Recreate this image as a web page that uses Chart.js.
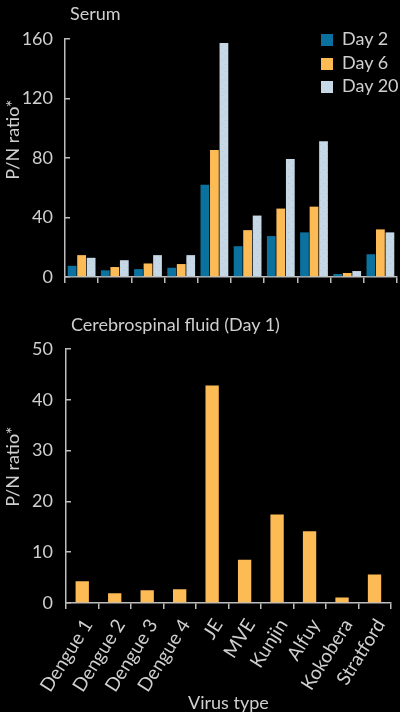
<!DOCTYPE html>
<html>
<head>
<meta charset="utf-8">
<script src="https://cdn.jsdelivr.net/npm/chart.js@4.4.1/dist/chart.umd.min.js"></script>
<style>
  html, body { margin: 0; padding: 0; background: #000; }
  body { width: 400px; height: 712px; position: relative; overflow: hidden; font-family: Lato, sans-serif; color: #cfcfcf; }
  .panel { position: absolute; left: 0; width: 400px; }
  .titulo { position: absolute; font-size: 18px; white-space: nowrap; }
  .leyenda { position: absolute; left: 321px; top: 27px; font-size: 18px; }
  .leyenda div { height: 23.5px; line-height: 23.5px; white-space: nowrap; }
  .leyenda span { display: inline-block; width: 12px; height: 12px; margin-right: 9px; vertical-align: -1px; }
</style>
</head>
<body>
<div class="panel" style="top:0;height:300px"><canvas id="grafico-suero" width="400" height="300"></canvas></div>
<div class="panel" style="top:300px;height:412px"><canvas id="grafico-lcr" width="400" height="412"></canvas></div>
<div class="titulo" style="left:70px;top:2px">Serum</div>
<div class="titulo" style="left:71px;top:313px">Cerebrospinal fluid (Day 1)</div>
<div class="leyenda" id="leyenda"></div>
<script>
const virus = ['Dengue 1', 'Dengue 2', 'Dengue 3', 'Dengue 4', 'JE', 'MVE', 'Kunjin', 'Alfuy', 'Kokobera', 'Stratford'];
const suero = ['Day 2', 'Day 6', 'Day 20'];
const dia2 = [7.5, 4.5, 5.3, 6.2, 62, 20.7, 27.5, 30, 2, 15.3];
const dia6 = [14.7, 6.7, 9.1, 8.7, 85.3, 31.5, 46, 47.3, 2.7, 32];
const dia20 = [12.9, 11.3, 14.7, 14.7, 157.3, 41.3, 79.3, 91.3, 4, 30];
const lcrDia1 = [4.3, 1.9, 2.5, 2.7, 42.8, 8.5, 17.4, 14.1, 1.1, 5.6];
const ticksSuero = [0, 40, 80, 120, 160];
const ticksLcr = [0, 10, 20, 30, 40, 50];

const colorTexto = '#cfcfcf';
const colorEje = '#bdbdbd';
const azul = '#0b72a0';
const naranja = '#fdbb55';
const celeste = '#c6d7e6';

// trama punteada para Day 20
function trama() {
    const c = document.createElement('canvas');
    c.width = 7; c.height = 7;
    const g = c.getContext('2d');
    g.fillStyle = celeste;
    g.fillRect(0, 0, 7, 7);
    g.fillStyle = '#b3cadd';
    g.fillRect(1, 1, 1, 1);
    g.fillRect(5, 4, 1, 1);
    return g.createPattern(c, 'repeat');
}

Chart.defaults.font.family = 'Lato, sans-serif';
Chart.defaults.font.size = 18;
Chart.defaults.color = colorTexto;
Chart.defaults.animation = false;

// los espacios delante suben un poco el título, como en el original
function ejeY(max, paso, ancho, padding, espacios) {
    return {
        min: 0, max: max,
        afterFit: s => { s.width = ancho; s.paddingTop = 11; s.paddingBottom = 11; },
        afterBuildTicks: s => { s.ticks = (max === 160 ? ticksSuero : ticksLcr).map(v => ({ value: v })); },
        ticks: { stepSize: paso, padding: padding, color: colorTexto },
        border: { color: colorEje, width: 1.5 },
        grid: { drawOnChartArea: false, drawTicks: true, tickLength: -5, color: colorEje, lineWidth: 1.5 },
        title: { display: true, text: ' '.repeat(espacios) + 'P/N ratio*', color: colorTexto, padding: { top: 2, bottom: 0 } }
    };
}

function ejeX(alto, conEtiquetas) {
    return {
        afterFit: s => { s.height = alto; },
        ticks: {
            display: conEtiquetas, autoSkip: false, maxRotation: 58, minRotation: 58,
            padding: 6, labelOffset: 6, color: colorTexto, font: { size: 19 }
        },
        border: { color: colorEje, width: 1.5 },
        grid: { offset: true, drawOnChartArea: false, drawTicks: true, tickLength: 6, color: colorEje, lineWidth: 1.5 },
        title: { display: conEtiquetas, text: 'Virus type', color: colorTexto, padding: { top: 0, bottom: -2 } }
    };
}

const coloresSuero = [azul, naranja, trama()];

new Chart(document.getElementById('grafico-suero'), {
    type: 'bar',
    data: {
        labels: virus,
        datasets: [
            { label: suero[0], data: dia2, backgroundColor: coloresSuero[0] },
            { label: suero[1], data: dia6, backgroundColor: coloresSuero[1] },
            { label: suero[2], data: dia20, backgroundColor: coloresSuero[2] }
        ]
    },
    options: {
        responsive: false,
        layout: { padding: { top: 39, right: 3, left: 0, bottom: 0 } },
        datasets: { bar: { categoryPercentage: 0.86, barPercentage: 0.92 } },
        plugins: { legend: { display: false }, tooltip: { enabled: false } },
        scales: { x: ejeX(23, false), y: ejeY(160, 40, 65, 17, 8) }
    }
});

new Chart(document.getElementById('grafico-lcr'), {
    type: 'bar',
    data: {
        labels: virus,
        datasets: [{ label: 'Day 1', data: lcrDia1, backgroundColor: naranja }]
    },
    options: {
        responsive: false,
        layout: { padding: { top: 49, right: 3, left: 0, bottom: 0 } },
        datasets: { bar: { categoryPercentage: 1, barPercentage: 0.41 } },
        plugins: { legend: { display: false }, tooltip: { enabled: false } },
        scales: { x: ejeX(109, true), y: ejeY(50, 10, 66, 18, 4) }
    }
});

// leyenda del suero
const leyenda = document.getElementById('leyenda');
suero.forEach((nombre, i) => {
    const fila = document.createElement('div');
    const cuadro = document.createElement('span');
    cuadro.style.background = i === 2 ? celeste : coloresSuero[i];
    fila.appendChild(cuadro);
    fila.appendChild(document.createTextNode(nombre));
    leyenda.appendChild(fila);
});
</script>
</body>
</html>
